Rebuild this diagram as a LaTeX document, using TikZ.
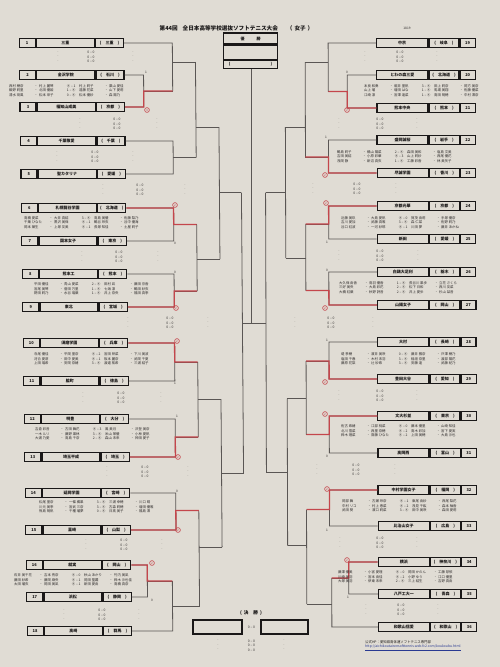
\documentclass[tikz,border=0pt]{standalone}
\usepackage{fontspec}
\setmainfont{Noto Sans CJK JP}
\usetikzlibrary{calc}
\definecolor{paper}{HTML}{E0DCD4}
\definecolor{ink}{HTML}{1A1818}
\definecolor{wire}{HTML}{5A5654}
\definecolor{won}{HTML}{C4464C}
\definecolor{note}{HTML}{2E2B2B}
\definecolor{link}{HTML}{2A3A92}
\newcommand{\BoxSlant}{-0.0136}
\newcommand{\LeftSlant}{-0.0075}
\newcommand{\RightSlant}{-0.003}

% one entry of the left half: number, y, school, prefecture
\newcommand{\LeftTeam}[4]{%
  \node[cell,minimum width=16pt,anchor=west] (Ln#1) at (18,#2) {#1};
  \node[cell,minimum width=58pt,anchor=west] (L#1) at (Ln#1.east) {#3};
  \node[cell,minimum width=28pt,anchor=west] (Lp#1) at (L#1.east) {(\hspace{4pt}#4\hspace{4pt})};}
% one entry of the right half
\newcommand{\RightTeam}[4]{%
  \node[cell,minimum width=51pt,anchor=west] (R#1) at (376,#2) {#3};
  \node[cell,minimum width=30pt,anchor=west] (Rp#1) at (R#1.east) {(\hspace{4pt}#4\hspace{4pt})};
  \node[cell,minimum width=15pt,anchor=west] (Rn#1) at (Rp#1.east) {#1};}
% a joint: upper feeder, lower feeder, x and y of the joint, x it runs on to, name of that end
\newcommand{\Tie}[6]{%
  \draw[wire] (#1) -| (#3,#4) |- (#2);
  \draw[wire] (#3,#4) -- (#5,#4) coordinate (#6);}
% a match still to be played: name, y, x of the dots, of the score, of the dots
\newcommand{\Blank}[5]{%
  \node[blank] (#1l) at (#3,#2) {·\\·\\·};
  \node[blank] (#1s) at (#4,#2) {0 – 0\\0 – 0\\0 – 0};
  \node[blank] (#1r) at (#5,#2) {·\\·\\·};}
% one line of a played match
\newcommand{\Line}[5]{\makebox[24pt][l]{#1}\makebox[6pt]{・}\makebox[24pt][l]{#2}%
  \makebox[16pt]{#3}\makebox[24pt][l]{#4}\makebox[6pt]{・}\makebox[24pt][l]{#5}}

\begin{document}
\begin{tikzpicture}[x=1pt,y=-1pt,
  cell/.style={draw=ink,line width=1.2pt,fill=paper,minimum height=9.5pt,inner sep=0pt,
    font=\fontsize{4}{4}\selectfont\bfseries,text=ink},
  wire/.style={draw=wire,line width=0.8pt},
  won/.style={draw=won,line width=1.3pt},
  blank/.style={align=center,inner sep=0pt,text=note,font=\fontsize{3.4}{4.6}\selectfont},
  names/.style={align=left,inner sep=0pt,anchor=west,text=note,font=\fontsize{3.4}{4.5}\selectfont},
  gamemark/.style={circle,draw=won,line width=0.6pt,inner sep=0pt,minimum size=4.8pt,
    text=won,font=\fontsize{3}{3}\selectfont},
  lost/.style={inner sep=0pt,text=note,font=\fontsize{3.2}{3.2}\selectfont}]

  \fill[paper] (0,0) rectangle (500,667);
  \useasboundingbox (0,0) rectangle (500,667);

  % ---- heading --------------------------------------------------------------
  \node[inner sep=0pt,font=\fontsize{5.6}{6}\selectfont\bfseries,text=ink] (title) at (236.5,28)
    {第44回\hspace{5pt}全日本高等学校選抜ソフトテニス大会\hspace{9pt}（\hspace{2pt}女子\hspace{2pt}）};
  \node[lost] (page) at (407,28) {1819};

  % ---- the champion ---------------------------------------------------------
  \node[cell,minimum width=54pt,minimum height=11pt] (champ) at (250.5,38.5) {優\hspace{12pt}勝};
  \node[cell,minimum width=54pt,minimum height=14pt,anchor=north] (champname) at (champ.south) {};
  \node[cell,minimum width=54pt,minimum height=8pt,anchor=north] (champpref) at (champname.south)
    {(\hspace{40pt})};

  % ---- left half ------------------------------------------------------------
  \begin{scope}[xslant=\BoxSlant]
    \foreach \n/\y/\s/\p in {1/43/三重/三重, 2/75/金沢学院/石川, 3/107/福知山成美/京都,
        4/141/千葉敬愛/千葉, 5/174/聖カタリナ/愛媛, 6/208/札幌龍谷学園/北海道,
        7/241/国本女子/東京, 8/274/熊本工/熊本, 9/307/東北/宮城, 10/343/須磨学園/兵庫,
        11/381/脇町/徳島, 12/419/明豊/大分, 13/457/埼玉平成/埼玉, 14/493/延岡学園/宮崎,
        15/530/韮崎/山梨, 16/565/就実/岡山, 17/597/浜松/静岡, 18/631/高崎/群馬}
      \LeftTeam{\n}{\y}{\s}{\p};
  \end{scope}

  \begin{scope}[xslant=\LeftSlant]
    \Tie{Lp2.east}{Lp3.east}{143}{91}{172}{w23}
    \Tie{Lp1.east}{w23}{172}{62}{195}{w123}
    \Tie{Lp4.east}{Lp5.east}{172}{157.5}{195}{w45}
    \Tie{w123}{w45}{195}{127}{218}{w1to5}
    \Tie{Lp6.east}{Lp7.east}{172}{224.5}{195}{w67}
    \Tie{Lp8.east}{Lp9.east}{172}{291}{195}{w89}
    \Tie{w67}{w89}{195}{259}{218}{w6to9}
    \Tie{w1to5}{w6to9}{218}{192.5}{240}{wtopL}
    \Tie{Lp10.east}{Lp11.east}{172}{362}{195}{w1011}
    \Tie{Lp12.east}{Lp13.east}{172}{437}{195}{w1213}
    \Tie{w1011}{w1213}{195}{399}{218}{w10to13}
    \Tie{Lp14.east}{Lp15.east}{172}{510.5}{195}{w1415}
    \Tie{Lp16.east}{Lp17.east}{143}{581}{168}{w1617}
    \Tie{w1617}{Lp18.east}{168}{606}{195}{w16to18}
    \Tie{w1415}{w16to18}{195}{547}{218}{w14to18}
    \Tie{w10to13}{w14to18}{218}{473}{240}{wlowL}
    \draw[wire] (wtopL) -| (240,323.5) coordinate (semiL) |- (wlowL);

    % first round winners in red
    \draw[won] (Lp3.east) -| (143,91) -- (172,91);
    \draw[won] (Lp6.east) -| (172,224.5) -- (195,224.5);
    \draw[won] (Lp9.east) -| (172,291) -- (195,291);
    \draw[won] (Lp10.east) -| (172,362) -- (195,362);
    \draw[won] (Lp13.east) -| (172,437) -- (195,437);
    \draw[won] (Lp15.east) -| (172,510.5) -- (195,510.5);
    \draw[won] (Lp16.east) -| (143,581) -- (168,581);
  \end{scope}

  % ---- right half -----------------------------------------------------------
  \begin{scope}[xslant=\RightSlant]
    \foreach \n/\y/\s/\p in {19/43/中京/岐阜, 20/75/とわの森三愛/北海道, 21/108/熊本中央/熊本,
        22/140/盛岡誠桜/岩手, 23/173/尽誠学園/香川, 24/206/京都光華/京都, 25/239/新田/愛媛,
        26/272/白鷗大足利/栃木, 27/305/山陽女子/岡山, 28/342/大村/長崎, 29/379/豊田大谷/愛知,
        30/416/文大杉並/東京, 31/453/高岡西/富山, 32/490/中村学園女子/福岡,
        33/526/比治山女子/広島, 34/562/横浜/神奈川, 35/594/八戸工大一/青森,
        36/627/和歌山信愛/和歌山}
      \RightTeam{\n}{\y}{\s}{\p};

    \Tie{R20.west}{R21.west}{347}{91.5}{328}{w2021}
    \Tie{R19.west}{w2021}{328}{62}{305}{w19to21}
    \Tie{R22.west}{R23.west}{328}{157}{305}{w2223}
    \Tie{w19to21}{w2223}{305}{127}{285}{w19to23}
    \Tie{R24.west}{R25.west}{328}{224}{305}{w2425}
    \Tie{R26.west}{R27.west}{328}{290.5}{305}{w2627}
    \Tie{w2425}{w2627}{305}{258}{285}{w24to27}
    \Tie{w19to23}{w24to27}{285}{192.5}{265}{wtopR}
    \Tie{R28.west}{R29.west}{328}{361}{305}{w2829}
    \Tie{R30.west}{R31.west}{328}{434.5}{305}{w3031}
    \Tie{w2829}{w3031}{305}{398.5}{286}{w28to31}
    \Tie{R32.west}{R33.west}{328}{509.5}{305}{w3233}
    \Tie{R34.west}{R35.west}{347}{578}{330}{w3435}
    \Tie{w3435}{R36.west}{330}{604}{305}{w34to36}
    \Tie{w3233}{w34to36}{305}{545.5}{286}{w32to36}
    \Tie{w28to31}{w32to36}{286}{472}{265}{wlowR}
    \draw[wire] (wtopR) -| (265,323.5) coordinate (semiR) |- (wlowR);

    \draw[won] (R21.west) -| (347,91.5) -- (328,91.5);
    \draw[won] (R23.west) -| (328,157) -- (305,157);
    \draw[won] (R24.west) -| (328,224) -- (305,224);
    \draw[won] (R27.west) -| (328,290.5) -- (305,290.5);
    \draw[won] (R29.west) -| (328,361) -- (305,361);
    \draw[won] (R30.west) -| (328,434.5) -- (305,434.5);
    \draw[won] (R32.west) -| (328,509.5) -- (305,509.5);
    \draw[won] (R34.west) -| (347,578) -- (330,578);
  \end{scope}

  % ---- the final ------------------------------------------------------------
  \coordinate (top) at (251.5,323.5);
  \draw[wire] (champpref.south -| top) -- (top);
  \draw[wire] (semiL) -- (top) -- (semiR);
  \node[inner sep=0pt,font=\fontsize{4.6}{5}\selectfont\bfseries,text=ink] (final) at (251,612.5)
    {(\hspace{2pt}決\hspace{5pt}勝\hspace{2pt})};
  \node[cell,minimum width=49pt,minimum height=14pt] (finL) at (217.5,627) {};
  \node[cell,minimum width=47pt,minimum height=14pt] (finR) at (284.5,627) {};
  \node[blank] (finscore) at (251.5,627) {0 – 0};
  \Blank{pf}{645.5}{218}{251.5}{284}

  % ---- marks at the joints ----------------------------------------------------
  \foreach \x/\y/\k in {147/110/4, 175/205/2, 176/308/2, 177/341/2, 178/457/2, 178/530/2,
      152/563/2, 347/110/2, 325/175/2, 326/203/2, 325/308/2, 325/382/2, 325/414/2,
      327/489/2, 347/560/2}
    \node[gamemark] at (\x,\y) {\k};
  \foreach \x/\y/\k in {146/72/1, 175/243/0, 175/272/0, 175/383/1, 177/416/1, 177/491/0,
      152/600/0, 347/72/0, 326/137/1, 327/242/1, 327/270/0, 327/340/1, 327/456/0,
      327/530/1, 348/597/1}
    \node[lost] at (\x,\y) {\k};

  % ---- matches to come --------------------------------------------------------
  \Blank{p1}{57}{58}{91}{133}
  \Blank{p3}{124}{80}{117}{157}
  \Blank{p4}{157}{57}{95}{133}
  \Blank{p5}{190}{103}{140}{185}
  \Blank{p7}{257}{82}{119}{158}
  \Blank{p9}{323}{128}{170}{208}
  \Blank{p11}{398}{83}{121}{161}
  \Blank{p13}{472}{107}{145}{188}
  \Blank{p15}{545}{86}{124}{162}
  \Blank{p17}{615}{64}{102}{139}
  \Blank{p19}{57}{365}{400}{437}
  \Blank{p21}{124}{339}{380}{417}
  \Blank{p23}{189}{313}{357}{396}
  \Blank{p25}{256}{339}{380}{418}
  \Blank{p27}{323}{295}{331}{373}
  \Blank{p29}{396}{339}{380}{417}
  \Blank{p31}{470}{317}{356}{395}
  \Blank{p33}{543}{340}{380}{417}
  \Blank{p35}{610}{366}{401}{438}

  % ---- played matches ---------------------------------------------------------
  \node[names] (s23) at (9,90.5) {\Line{西村 穂奈}{村上 麗琴}{④ – 1}{村上 莉子}{栗山 愛佳}\\
    \Line{鍛野 莉里}{北田 優姫}{1 – ④}{遠藤 花菜}{山下 愛莉}\\
    \Line{清水 琉風}{松本 采子}{0 – ④}{松本 優紗}{森 陽乃}};
  \node[names] (s67) at (24,222.5) {\Line{高橋 夏菜}{大井 真結}{3 – ④}{高島 美優}{佐藤 梨乃}\\
    \Line{千葉 ひなた}{黒沢 美保}{④ – 1}{鶴谷 玲衣}{谷中 優海}\\
    \Line{岡本 葉生}{上塚 友美}{④ – 1}{長塚 知佳}{土屋 莉子}};
  \node[names] (s89) at (34,289) {\Line{平田 優佳}{青山 愛菜}{2 – ④}{田村 凪}{藤田 京香}\\
    \Line{宮尾 美琴}{菅田 万里}{1 – ④}{七海 凛}{鶴田 紗衣}\\
    \Line{野田 莉乃}{水谷 瑞葉}{1 – ④}{井上 奈央}{福田 真季}};
  \node[names] (s1011) at (34,359) {\Line{寺尾 優佳}{平岡 里奈}{④ – 2}{宮田 咲菜}{下川 美波}\\
    \Line{河合 夏芽}{田中 愛美}{④ – 1}{阪本 麗奈}{武岡 千夏}\\
    \Line{上田 瑞希}{安岡 奈緒}{3 – ④}{渡邊 祐希}{三浦 結子}};
  \node[names] (s1213) at (35,434) {\Line{吉倉 彩音}{古田 舞花}{④ – 3}{鳳 美月}{沢登 美奈}\\
    \Line{一木 ルリ}{藤野 果林}{3 – ④}{米山 茉優}{小林 夏帆}\\
    \Line{大浦 乃愛}{高島 千奈}{2 – ④}{森山 未来}{神田 愛子}};
  \node[names] (s1415) at (39,507) {\Line{松尾 里奈}{一條 楓果}{3 – ④}{三浦 幸穂}{川口 晴}\\
    \Line{川元 美季}{宮武 三奈}{3 – ④}{古森 莉穂}{増田 優唯}\\
    \Line{熊島 明帆}{千種 瑠夢}{0 – ④}{日高 美子}{福島 澪}};
  \node[names] (s1617) at (14,580) {\Line{石井 美千花}{吉本 秀奈}{④ – 0}{秋山 あかり}{竹内 美凪}\\
    \Line{藤田 紗希}{藤岡 麻央}{④ – 1}{岡田 聖羅}{鈴木 沙也佳}\\
    \Line{太田 瑠衣}{岡田 美凪}{④ – 1}{新田 愛由}{高橋 真奈}};
  \node[names] (s2021) at (364,90.5) {\Line{本良 和奏}{堀井 里帆}{3 – ④}{田上 莉奈}{岡方 美奈}\\
    \Line{山上 瑠}{増田 はな}{1 – ④}{馬場 美翔}{佐藤 優菜}\\
    \Line{江崎 凛}{宮澤 遥菜}{1 – ④}{高田 明穂}{中村 澪奈}};
  \node[names] (s2223) at (337,156.5) {\Line{鶴島 莉子}{橋山 陽菜}{2 – ④}{森田 美和}{塩島 文美}\\
    \Line{吉田 美結}{小原 彩華}{④ – 3}{山上 莉紗}{西尾 優花}\\
    \Line{浅岡 静}{新沼 真衣}{1 – ④}{工藤 彩香}{林 美矢子}};
  \node[names] (s2425) at (341,222.5) {\Line{近藤 美玖}{大島 愛帆}{④ – 0}{賀茂 由莉}{手塚 優奈}\\
    \Line{吉川 愛加}{武藤 真唯}{3 – ④}{森 仁菜}{佐野 莉乃}\\
    \Line{谷口 紅波}{一河 紗耶}{④ – 1}{川田 夢}{藤井 あかね}};
  \node[names] (s2627) at (339,287.5) {\Line{大久保 由香}{鳥羽 優香}{1 – ④}{長谷川 果歩}{立花 さくら}\\
    \Line{三好 美央}{大島 彩花}{2 – ④}{松下 日和}{西川 友菜}\\
    \Line{大橋 紅葉}{秋野 詩音}{2 – ④}{井上 夏歩}{杉山 栞音}};
  \node[names] (s2829) at (341,359) {\Line{堤 季穂}{濱井 美咲}{0 – ④}{藤井 雅奈}{戸澤 穂乃}\\
    \Line{塩田 千春}{木村 未羽}{3 – ④}{稲垣 奈里}{渡部 陽花}\\
    \Line{藤原 花梨}{辻 紗希}{3 – ④}{安藤 遥}{武藤 紀乃}};
  \node[names] (s3031) at (341,431) {\Line{佐古 希緒}{江部 桃菜}{④ – 0}{藤本 優里}{山崎 知佳}\\
    \Line{北川 雪菜}{西里 奈穂}{④ – 2}{高木 彩加}{宮下 夏実}\\
    \Line{鈴木 理菜}{齋藤 ひなた}{④ – 2}{上田 美穂}{大島 沙也}};
  \node[names] (s3233) at (342,506) {\Line{岡部 舞}{古瀬 玲奈}{④ – 1}{東尾 由紗}{西尾 梨花}\\
    \Line{中村 リコ}{村上 恵菜}{④ – 2}{浅見 千紘}{森本 柚香}\\
    \Line{武田 葵}{濱口 莉菜}{3 – ④}{田中 美咲}{森田 愛莉}};
  \node[names] (s3435) at (338,577) {\Line{藤澤 優美}{小宮 愛理}{④ – 0}{岡田 かのん}{工藤 芽依}\\
    \Line{川崎 美羽}{宮本 由佳}{④ – 2}{小野 ゆう}{江口 優里}\\
    \Line{大塚 美羽}{伊東 未来}{2 – ④}{三上 結生}{吉野 真由}};

  % ---- source -------------------------------------------------------------------
  \node[names,text=ink] (source) at (365,642) {公式HP：愛知県高体連ソフトテニス専門部};
  \node[names,text=link] (url) at (365,648) {\underline{http://aichikoutairensofttennis.web.fc2.com/koukoubu.html}};

\end{tikzpicture}
\end{document}
